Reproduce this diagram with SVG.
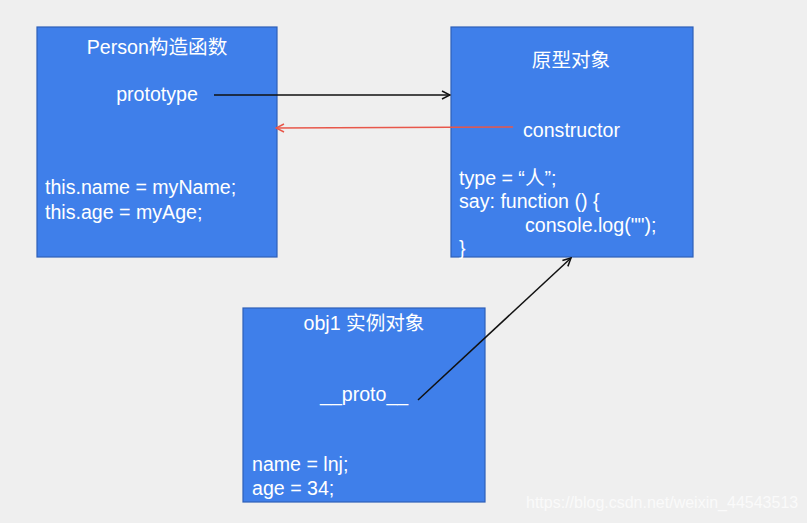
<svg xmlns="http://www.w3.org/2000/svg" width="807" height="523" viewBox="0 0 807 523">
<defs>
<style>
.box{fill:#3f7fea;stroke:#2d5fb8;stroke-width:1.2}
.t{fill:#ffffff;font-family:"Liberation Sans","Noto Sans CJK SC",sans-serif;font-size:19.6px}
.c{text-anchor:middle}
.wm{fill:#ffffff;fill-opacity:0.7;font-family:"Liberation Sans",sans-serif;font-size:16px}
</style>
<marker id="ab" markerWidth="10" markerHeight="10" refX="9" refY="5" orient="auto" markerUnits="userSpaceOnUse"><path d="M1,1 L9,5 L1,9" fill="none" stroke="#111" stroke-width="1.5"/></marker>
<marker id="ar" markerWidth="10" markerHeight="10" refX="9" refY="5" orient="auto" markerUnits="userSpaceOnUse"><path d="M1,1 L9,5 L1,9" fill="none" stroke="#e8574a" stroke-width="1.5"/></marker>
</defs>
<rect x="0" y="0" width="807" height="523" fill="#efefef"/>
<g id="person">
<rect class="box" x="37" y="27" width="240" height="230"/>
<text class="t c" x="157" y="54">Person构造函数</text>
<text class="t c" x="157" y="101">prototype</text>
<text class="t" x="45" y="194">this.name = myName;</text>
<text class="t" x="45" y="219">this.age = myAge;</text>
</g>
<g id="proto">
<rect class="box" x="451" y="27" width="242" height="230"/>
<text class="t c" x="571" y="67">原型对象</text>
<text class="t" x="523" y="137">constructor</text>
<text class="t" x="459" y="185">type = “人”;</text>
<text class="t" x="459" y="208">say: function () {</text>
<text class="t" x="525" y="232">console.log("");</text>
<text class="t" x="459" y="255">}</text>
</g>
<g id="obj1">
<rect class="box" x="243" y="308" width="242" height="194"/>
<text class="t c" x="364" y="330">obj1 实例对象</text>
<text class="t" x="320" y="401">__proto__</text>
<text class="t" x="252" y="471">name = lnj;</text>
<text class="t" x="252" y="495">age = 34;</text>
</g>
<g id="connectors">
<line x1="214" y1="95" x2="450" y2="95" stroke="#111" stroke-width="1.5" marker-end="url(#ab)"/>
<line x1="513" y1="127" x2="276" y2="128" stroke="#e8574a" stroke-width="1.5" marker-end="url(#ar)"/>
<line x1="418" y1="400" x2="571" y2="258" stroke="#111" stroke-width="1.5" marker-end="url(#ab)"/>
</g>
<text class="wm" x="526" y="508">https://blog.csdn.net/weixin_44543513</text>
</svg>
